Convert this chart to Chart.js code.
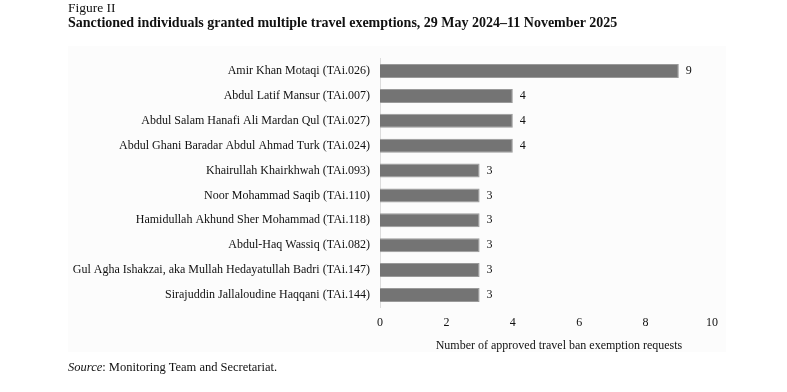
<!DOCTYPE html>
<html>
<head>
<meta charset="utf-8">
<script src="https://cdn.jsdelivr.net/npm/chart.js@4.4.1/dist/chart.umd.min.js"></script>
<style>
  body { margin: 0; background: #fff; }
  #wrap { position: relative; width: 787px; height: 392px; font-family: "Liberation Serif", serif; color: #111; }
  #fig { position: absolute; left: 68px; top: 1px; font-size: 13.5px; line-height: 14px; }
  #title { position: absolute; left: 68px; top: 15.5px; font-size: 14px; line-height: 14px; font-weight: bold; white-space: nowrap; }
  #source { position: absolute; left: 68px; top: 361px; font-size: 12.5px; line-height: 13px; }
  canvas { position: absolute; left: 0; top: 0; }
</style>
</head>
<body>
<div id="wrap">
  <canvas id="BarChart" width="787" height="392"></canvas>
  <div id="fig">Figure II</div>
  <div id="title">Sanctioned individuals granted multiple travel exemptions, 29 May 2024&#8211;11 November 2025</div>
  <div id="source"><i>Source</i>: Monitoring Team and Secretariat.</div>
</div>
<script>
var names = [
    "Amir Khan Motaqi (TAi.026)",
    "Abdul Latif Mansur (TAi.007)",
    "Abdul Salam Hanafi Ali Mardan Qul (TAi.027)",
    "Abdul Ghani Baradar Abdul Ahmad Turk (TAi.024)",
    "Khairullah Khairkhwah (TAi.093)",
    "Noor Mohammad Saqib (TAi.110)",
    "Hamidullah Akhund Sher Mohammad (TAi.118)",
    "Abdul-Haq Wassiq (TAi.082)",
    "Gul Agha Ishakzai, aka Mullah Hedayatullah Badri (TAi.147)",
    "Sirajuddin Jallaloudine Haqqani (TAi.144)"
];
var exemptions = [9, 4, 4, 4, 3, 3, 3, 3, 3, 3];
var xTicks = [0, 2, 4, 6, 8, 10];
var xTitle = "Number of approved travel ban exemption requests";

var serif = "'Liberation Serif', serif";

// faint panel behind the chart
var panel = {
    id: "panel",
    beforeDraw: function(chart) {
        var ctx = chart.ctx;
        ctx.save();
        ctx.fillStyle = "#fcfcfc";
        ctx.fillRect(68, 46, 658, 306);
        ctx.restore();
    }
};

// value next to each bar, plus the x axis title (sits a bit right of centre)
var valueLabels = {
    id: "valueLabels",
    afterDatasetsDraw: function(chart) {
        var ctx = chart.ctx;
        var meta = chart.getDatasetMeta(0);
        ctx.save();
        ctx.font = "12px " + serif;
        ctx.fillStyle = "#111";
        ctx.textAlign = "left";
        ctx.textBaseline = "middle";
        meta.data.forEach(function(bar, i) {
            ctx.fillText(exemptions[i], bar.x + 7, bar.y);
        });
        ctx.textAlign = "center";
        var area = chart.chartArea;
        ctx.fillText(xTitle, (area.left + area.right) / 2 + 13, 346);
        ctx.restore();
    }
};

var c = document.getElementById("BarChart");
new Chart(c, {
    type: "bar",
    data: {
        labels: names,
        datasets: [{
            data: exemptions,
            backgroundColor: "#747474",
            borderColor: "#9a9a9a",
            borderWidth: 1,
            barPercentage: 0.9,
            categoryPercentage: 0.625
        }]
    },
    options: {
        indexAxis: "y",
        responsive: false,
        animation: false,
        layout: { padding: { top: 58.6, right: 75, bottom: 39.4, left: 0 } },
        plugins: {
            legend: { display: false },
            tooltip: { enabled: false }
        },
        scales: {
            x: {
                min: 0,
                max: 10,
                afterBuildTicks: function(scale) {
                    scale.ticks = xTicks.map(function(v) { return { value: v }; });
                },
                afterFit: function(scale) { scale.height = 45.2; },
                grid: { display: false, drawTicks: false },
                border: { display: false },
                ticks: { padding: 8, color: "#111", font: { family: serif, size: 12 } }
            },
            y: {
                afterFit: function(scale) { scale.width = 380; },
                grid: { display: false, drawTicks: false },
                border: { display: true, color: "#dcdcdc", width: 1 },
                ticks: { padding: 10, color: "#111", font: { family: serif, size: 12 } }
            }
        }
    },
    plugins: [panel, valueLabels]
});
</script>
</body>
</html>
